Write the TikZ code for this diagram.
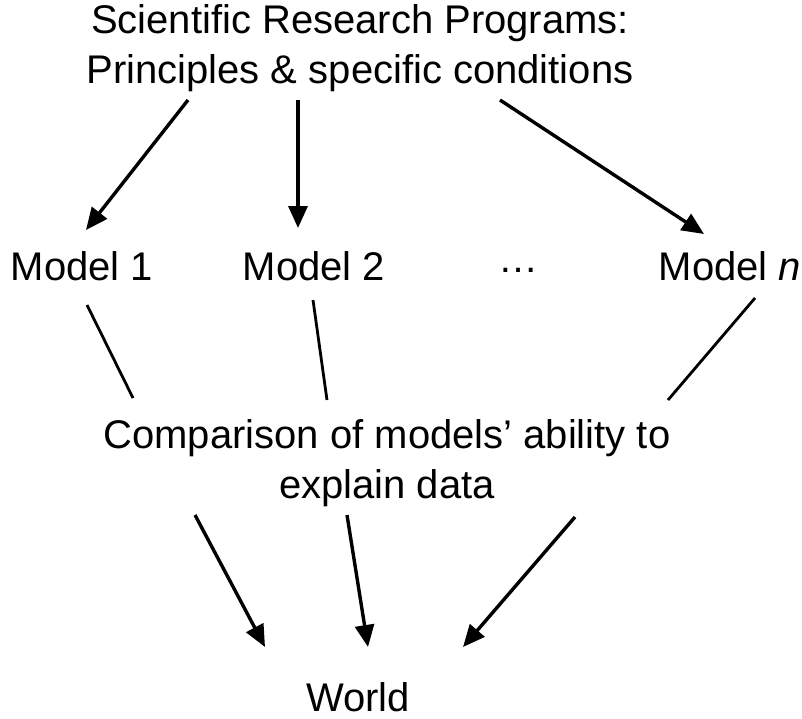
\documentclass[tikz,border=0pt]{standalone}
\usepackage{fontspec}
\setmainfont{Liberation Sans}
\usetikzlibrary{arrows.meta}

\begin{document}
\begin{tikzpicture}[x=1pt,y=-1pt,
	lbl/.style={inner sep=0pt,font=\fontsize{40}{50}\selectfont,align=center},
	arr/.style={draw=black,line width=3.4pt,-{Triangle[length=22pt,width=19pt]}},
	link/.style={draw=black,line width=2.8pt}]

	\useasboundingbox (0,0) rectangle (802,718);

	% texts
	\node[lbl,anchor=base] (prog) at (360,83) {Scientific Research Programs:\\Principles \& specific conditions};
	\node[lbl,anchor=base] (m1) at (82,280) {Model 1};
	\node[lbl,anchor=base] (m2) at (314,280) {Model 2};
	\node[lbl,anchor=base] (dots) at (518,272) {…};
	\node[lbl,anchor=base] (mn) at (730,280) {Model \textit{n}};
	\node[lbl,anchor=base] (comp) at (387,498) {Comparison of models’ ability to\\explain data};
	\node[lbl,anchor=base] (world) at (358,711) {World};

	% ends of the connectors
	\coordinate (p1) at (188,100);  \coordinate (q1) at (86,230);
	\coordinate (p2) at (298,100);  \coordinate (q2) at (298,228);
	\coordinate (p3) at (500,100);  \coordinate (q3) at (704,234);
	\coordinate (s1) at (87,305);   \coordinate (t1) at (133,398);
	\coordinate (s2) at (313,300);  \coordinate (t2) at (327,400);
	\coordinate (s3) at (755,298);  \coordinate (t3) at (668,400);
	\coordinate (u1) at (195,515);  \coordinate (w1) at (265,647);
	\coordinate (u2) at (347,515);  \coordinate (w2) at (368,647);
	\coordinate (u3) at (575,517);  \coordinate (w3) at (463,647);

	\path[arr] (p1) -- (q1);
	\path[arr] (p2) -- (q2);
	\path[arr] (p3) -- (q3);
	\path[link] (s1) -- (t1);
	\path[link] (s2) -- (t2);
	\path[link] (s3) -- (t3);
	\path[arr] (u1) -- (w1);
	\path[arr] (u2) -- (w2);
	\path[arr] (u3) -- (w3);

\end{tikzpicture}
\end{document}
